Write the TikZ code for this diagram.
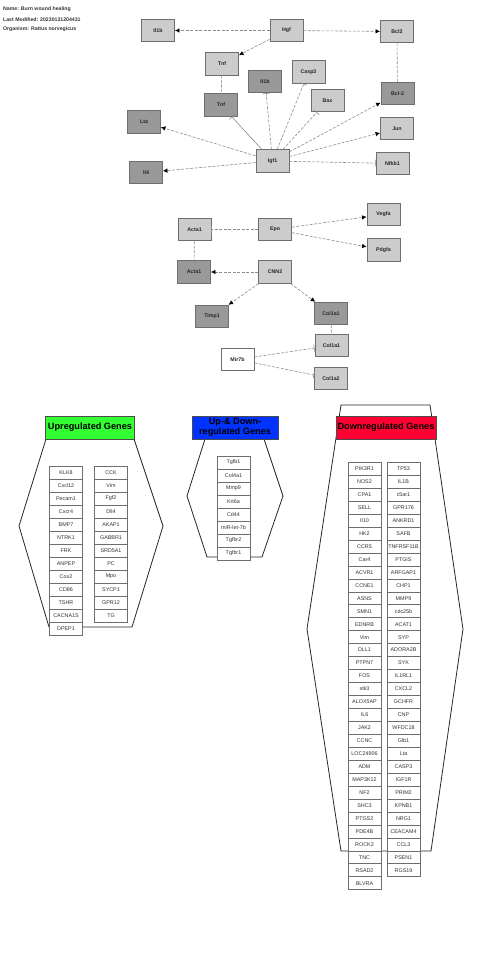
\documentclass[tikz,border=0pt]{standalone}
\usepackage{fontspec}
\setmainfont{Liberation Sans}
\usetikzlibrary{arrows.meta}
\definecolor{lg}{HTML}{CCCCCC}
\definecolor{dg}{HTML}{999999}
\definecolor{bd}{HTML}{6E6E6E}
\definecolor{eg}{HTML}{8C8C8C}
\definecolor{txt}{HTML}{333333}
\definecolor{upg}{HTML}{33FF33}
\definecolor{udb}{HTML}{0033FF}
\definecolor{dnr}{HTML}{FF0033}
\tikzset{
  gn/.style={draw=bd, line width=0.9pt, fill=lg, minimum width=33bp, minimum height=22.5bp, inner sep=0pt, font=\bfseries\fontsize{5.3}{6}\selectfont, text=black!85},
  gd/.style={gn, fill=dg},
  gw/.style={gn, fill=white},
  edge/.style={draw=eg, line width=0.6pt, dash pattern=on 3pt off 1.5pt},
  act/.style={edge, arrows={-{Latex[length=4.5bp,width=4.5bp,color=black]}}},
  inh/.style={edge, -{Bar[width=7bp]}},
  inhs/.style={draw=eg, line width=0.6pt, -{Bar[width=7bp]}},
  gb/.style={draw=bd, line width=0.6pt, fill=white, minimum width=33bp, minimum height=13bp, inner sep=0pt, font=\fontsize{5.4}{6}\selectfont, text=txt},
  hdr/.style={draw=black!70, line width=0.6pt, minimum height=23bp, inner sep=1pt, font=\bfseries\fontsize{9.2}{8.4}\selectfont, align=center},
  hexs/.style={draw=black!85, line width=0.8pt},
  meta/.style={anchor=west, inner sep=0pt, font=\bfseries\fontsize{5.2}{6}\selectfont, text=txt}
}
\begin{document}
\begin{tikzpicture}[x=1bp,y=-1bp]
\useasboundingbox (0,0) rectangle (480,960);
% metadata
\node[meta] (m1) at (3,9) {Name: Burn wound healing};
\node[meta] (m2) at (3,19.5) {Last Modified: 20230131204431};
\node[meta] (m3) at (3,29) {Organism: Rattus norvegicus};
% pathway nodes
\node[gn] (il1b) at (158,30.5) {Il1b};
\node[gn] (hgf) at (286.5,30.5) {Hgf};
\node[gn] (bcl2) at (397,31.5) {Bcl2};
\node[gn] (tnfa) at (222,64) {Tnf};
\node[gd] (tnfb) at (221,105) {Tnf};
\node[gd] (il1bd) at (265,81.5) {Il1b};
\node[gn] (casp3) at (308.5,72) {Casp3};
\node[gn] (bax) at (327.5,100.5) {Bax};
\node[gd] (bcl2d) at (397.5,93.5) {Bcl-2};
\node[gn] (jun) at (397,128.5) {Jun};
\node[gn] (nfkb1) at (392.5,163.5) {Nfkb1};
\node[gn] (igf1) at (272.5,161) {Igf1};
\node[gd] (lta) at (144,122) {Lta};
\node[gd] (il4) at (146,172.5) {Il4};
\node[gn] (acta1a) at (194.5,229.5) {Acta1};
\node[gn] (epo) at (275,229.5) {Epo};
\node[gn] (vegfa) at (383.5,214.5) {Vegfa};
\node[gn] (pdgfa) at (383.5,250) {Pdgfa};
\node[gd] (acta1b) at (194,272) {Acta1};
\node[gn] (cnn2) at (275,272) {CNN2};
\node[gd] (timp1) at (212,316.5) {Timp1};
\node[gd] (col1a1a) at (331,313.5) {Col1a1};
\node[gn] (col1a1b) at (331.5,345.5) {Col1a1};
\node[gn] (col1a2) at (331,378.5) {Col1a2};
\node[gw] (mir7b) at (237.5,359.5) {Mir7b};
% edges
\draw[act] (hgf) -- (il1b);
\draw[act] (hgf) -- (tnfa);
\draw[act] (hgf) -- (bcl2);
\draw[edge] (bcl2) -- (bcl2d);
\draw[edge] (tnfa) -- (tnfb);
\draw[act] (igf1) -- (lta);
\draw[act] (igf1) -- (il4);
\draw[inhs] (igf1) -- (tnfb);
\draw[inh] (igf1) -- (il1bd);
\draw[inh] (igf1) -- (casp3);
\draw[inh] (igf1) -- (bax);
\draw[act] (igf1) -- (bcl2d);
\draw[act] (igf1) -- (jun);
\draw[inh] (igf1) -- (nfkb1);
\draw[inh] (epo) -- (acta1a);
\draw[act] (epo) -- (vegfa);
\draw[act] (epo) -- (pdgfa);
\draw[edge] (acta1a) -- (acta1b);
\draw[act] (cnn2) -- (acta1b);
\draw[act] (cnn2) -- (timp1);
\draw[act] (cnn2) -- (col1a1a);
\draw[edge] (col1a1a) -- (col1a1b);
\draw[inh] (mir7b) -- (col1a1b);
\draw[inh] (mir7b) -- (col1a2);
% hexagons
\draw[hexs] (46,439) -- (19,526) -- (49,627) -- (132,627) -- (163,526) -- (134,439);
\draw[hexs] (205,439) -- (187,496) -- (207,557) -- (262,557) -- (283,496) -- (264,439);
\draw[hexs] (341,405) -- (307,629) -- (341,851) -- (431,851) -- (463,629) -- (430,405) -- cycle;
% headers
\node[hdr, fill=upg, minimum width=89bp] (hup) at (90,427.5) {Upregulated Genes};
\node[hdr, fill=udb, minimum width=86bp] (hud) at (235,427.5) {Up-\& Down-\\regulated Genes};
\node[hdr, fill=dnr, minimum width=100bp] (hdn) at (386,427.5) {Downregulated Genes};
% upregulated genes
\foreach \g [count=\i from 0] in {KLK8,Cxcl12,Pecam1,Cxcr4,BMP7,NTRK1,FRK,ANPEP,Cox2,CD86,TSHR,CACNA1S,DPEP1}
  \node[gb] (ua\i) at (66,472.5+13*\i) {\g};
\foreach \g [count=\i from 0] in {CCK,Vim,Fgf2,Dll4,AKAP1,GABBR1,SRD5A1,PC,Mpo,SYCP1,GPR12,TG}
  \node[gb] (ub\i) at (111,472.5+13*\i) {\g};
% up & down
\foreach \g [count=\i from 0] in {Tgfb1,Col4a1,Mmp9,Krt6a,Cd44,miR-let-7b,Tgfbr2,Tgfbr1}
  \node[gb] (ud\i) at (233.5,462.3+13*\i) {\g};
% downregulated
\foreach \g [count=\i from 0] in {PIK3R1,NOS2,CPA1,SELL,Il10,HK2,CCR5,Car4,ACVR1,CCNE1,ASNS,SMN1,EDNRB,Vim,DLL1,PTPN7,FOS,stk3,ALOX5AP,IL6,JAK2,CCNC,LOC24906,ADM,MAP3K12,NF2,SHC3,PTGS2,PDE4B,ROCK2,TNC,RSAD2,BLVRA}
  \node[gb] (da\i) at (364.5,468.8+12.95*\i) {\g};
\foreach \g [count=\i from 0] in {TP53,IL1B,c5ar1,GPR176,ANKRD1,SAFB,TNFRSF11B,PTGIS,ARFGAP1,CHP1,MMP9,cdc25b,ACAT1,SYP,ADORA2B,SYK,IL1RL1,CXCL2,GCHFR,CNP,WFDC18,Glb1,Lta,CASP3,IGF1R,PRIM2,KPNB1,NRG1,CEACAM4,CCL3,PSEN1,RGS19}
  \node[gb] (db\i) at (403.5,468.8+12.95*\i) {\g};
\end{tikzpicture}
\end{document}
